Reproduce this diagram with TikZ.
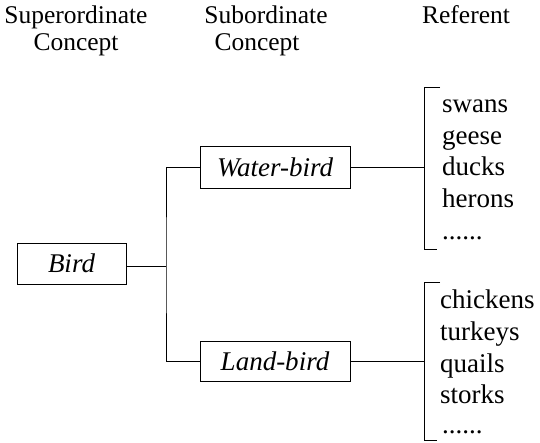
\documentclass[tikz,border=0pt]{standalone}
\usepackage{fontspec}
\setmainfont{Liberation Serif}
\begin{document}
\begin{tikzpicture}[x=1pt,y=-1pt,
  hdr/.style={font=\fontsize{25.5}{27}\selectfont, inner sep=0pt, anchor=base},
  item/.style={font=\fontsize{27}{30}\selectfont, inner sep=0pt, anchor=base west},
  box/.style={draw, line width=0.9pt, inner sep=0pt, font=\fontsize{27}{30}\selectfont\itshape},
  conn/.style={line width=0.9pt}
]
\useasboundingbox (0,0) rectangle (540,443);
% headers
\node[hdr] (h1a) at (76,24) {Superordinate};
\node[hdr] (h1b) at (76,51) {Concept};
\node[hdr] (h2a) at (266,24) {Subordinate};
\node[hdr] (h2b) at (257,51) {Concept};
\node[hdr] (h3) at (466,24) {Referent};
% boxes
\node[box, minimum width=109, minimum height=41] (bird) at (71.5,263.5) {Bird};
\node[box, minimum width=150, minimum height=42] (water) at (275,167) {Water-bird};
\node[box, minimum width=150, minimum height=40] (land) at (275,361) {Land-bird};
% junction coordinates
\coordinate (jx) at (166,266);
\coordinate (b1) at (424,167);
\coordinate (b2) at (424,364);
% connectors
\draw[conn] (bird.east |- jx) -- (jx);
\draw[conn] (water.west) -| (jx) |- (land.west);
\draw[conn] (water.east) -- (water.east -| b1);
\draw[conn] (land.east) -- (land.east -| b2);
% brackets
\draw[conn] (440,87) -- (424,87) -- (424,249) -- (437,249);
\draw[conn] (440,282) -- (424,282) -- (424,440) -- (437,440);
% referents
\node[item] (r1) at (442,113) {swans};
\node[item] (r2) at (442,145) {geese};
\node[item] (r3) at (442,176) {ducks};
\node[item] (r4) at (442,208) {herons};
\node[item] (r5) at (442,240) {......};
\node[item] (s1) at (440,308) {chickens};
\node[item] (s2) at (440,340) {turkeys};
\node[item] (s3) at (440,372) {quails};
\node[item] (s4) at (440,403) {storks};
\node[item] (s5) at (442,433) {......};
\end{tikzpicture}
\end{document}
